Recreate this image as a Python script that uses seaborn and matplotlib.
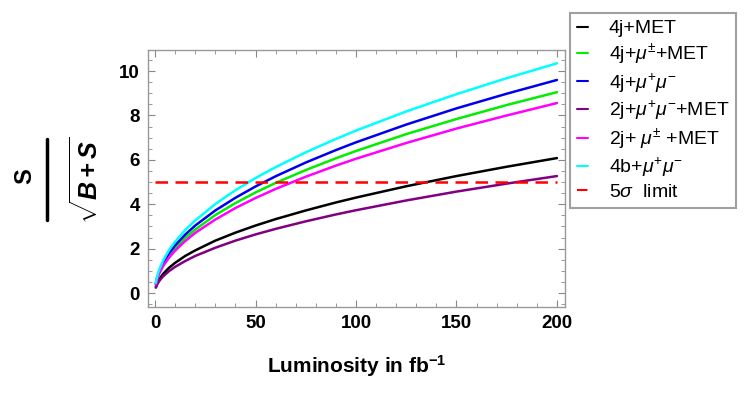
import matplotlib
matplotlib.use("Agg")
import matplotlib.pyplot as plt
import seaborn as sns
import pandas as pd
from matplotlib.ticker import MultipleLocator
from matplotlib.lines import Line2D

luminosity = [0.4, 1, 2, 4, 7, 10, 15, 20, 30, 40, 50, 60, 75, 90, 100, 125, 150, 175, 200]
sig_4j_met = [0.27, 0.43, 0.61, 0.86, 1.14, 1.36, 1.67, 1.92, 2.36, 2.72, 3.04, 3.33, 3.72, 4.08, 4.30, 4.81, 5.27, 5.69, 6.08]
sig_4j_mupm_met = [0.40, 0.64, 0.91, 1.28, 1.69, 2.02, 2.48, 2.86, 3.51, 4.05, 4.53, 4.96, 5.54, 6.07, 6.40, 7.16, 7.84, 8.47, 9.05]
sig_4j_mumu = [0.43, 0.68, 0.96, 1.36, 1.80, 2.15, 2.63, 3.04, 3.72, 4.29, 4.80, 5.26, 5.88, 6.44, 6.79, 7.59, 8.32, 8.98, 9.60]
sig_2j_mumu_met = [0.24, 0.37, 0.53, 0.75, 0.99, 1.18, 1.44, 1.67, 2.04, 2.36, 2.64, 2.89, 3.23, 3.54, 3.73, 4.17, 4.57, 4.93, 5.27]
sig_2j_mupm_met = [0.38, 0.61, 0.86, 1.21, 1.60, 1.91, 2.34, 2.71, 3.31, 3.83, 4.28, 4.69, 5.24, 5.74, 6.05, 6.76, 7.41, 8.00, 8.56]
sig_4b_mumu = [0.46, 0.73, 1.04, 1.46, 1.94, 2.31, 2.84, 3.27, 4.01, 4.63, 5.18, 5.67, 6.34, 6.94, 7.32, 8.18, 8.96, 9.68, 10.35]
limit_L = [0, 200]
limit_val = [5, 5]

labels = ["4j+MET", r"4j+$\mu^{\pm}$+MET", r"4j+$\mu^{+}\mu^{-}$", r"2j+$\mu^{+}\mu^{-}$+MET",
          r"2j+ $\mu^{\pm}$ +MET", r"4b+$\mu^{+}\mu^{-}$", r"5$\sigma$  limit"]
colors = ["black", "#00ee00", "#0000ee", "#800080", "#ff00ff", "cyan", "red"]
series = [sig_4j_met, sig_4j_mupm_met, sig_4j_mumu, sig_2j_mumu_met, sig_2j_mupm_met, sig_4b_mumu]

sns.set_style("ticks")
plt.rcParams["font.family"] = ["Liberation Sans", "DejaVu Sans"]
plt.rcParams["mathtext.fontset"] = "custom"
plt.rcParams["mathtext.rm"] = "Liberation Sans"
plt.rcParams["mathtext.it"] = "Liberation Sans:italic"
plt.rcParams["mathtext.bf"] = "Liberation Sans:bold"
plt.rcParams["mathtext.sf"] = "Liberation Sans:bold:italic"
plt.rcParams["text.color"] = "black"

fig = plt.figure(figsize=(7.5, 4.05), dpi=100)
ax = fig.add_axes([148/750, 1-307/405, (565-148)/750, (307-50)/405])

for vals, lab, col in zip(series, labels[:6], colors[:6]):
    df = pd.DataFrame({"L": luminosity, "v": vals})
    sns.lineplot(data=df, x="L", y="v", ax=ax, color=col, linewidth=1.8, label=lab, legend=False)
dfl = pd.DataFrame({"L": limit_L, "v": limit_val})
sns.lineplot(data=dfl, x="L", y="v", ax=ax, color="red", linewidth=1.8, legend=False)
ax.lines[-1].set_linestyle((0, (5, 3)))
ax.lines[-1].set_label(labels[6])

ax.set_xlim(-3.5, 204)
ax.set_ylim(-0.63, 10.95)
ax.xaxis.set_major_locator(MultipleLocator(50))
ax.xaxis.set_minor_locator(MultipleLocator(10))
ax.yaxis.set_major_locator(MultipleLocator(2))
ax.yaxis.set_minor_locator(MultipleLocator(0.5))
ax.tick_params(which="both", direction="in", top=True, right=True, color="#888888", labelcolor="black")
ax.tick_params(which="major", length=5, labelsize=13.5, pad=6)
ax.tick_params(which="minor", length=3)
for lab in ax.get_xticklabels() + ax.get_yticklabels():
    lab.set_fontweight("bold")
for sp in ax.spines.values():
    sp.set_color("#999999")
    sp.set_linewidth(1.0)

ax.set_xlabel(r"Luminosity in fb$^{\mathbf{-1}}$", fontsize=15, fontweight="bold", labelpad=15,
              color="black")
ax.set_ylabel("")

# y label: S / sqrt(B+S), rotated
fig.text(25/750, 1-176/405, "S", rotation=90, fontsize=17, fontweight="bold",
         ha="center", va="center", color="black")
fig.add_artist(Line2D([47/750, 47/750], [1-139/405, 1-220/405], color="black", linewidth=2.5,
                      transform=fig.transFigure))
fig.text(87/750, 1-180/405, r"$\sqrt{\mathsf{B+S}}$", rotation=90, fontsize=18,
         ha="center", va="center", color="black")

h, l = ax.get_legend_handles_labels()
leg = fig.legend(h, l, loc="upper left", bbox_to_anchor=(570/750, 1-13/405), fontsize=14,
                 handlelength=0.55, handletextpad=1.1, labelspacing=0.22, frameon=True,
                 fancybox=False, edgecolor="#888888", borderpad=0.35, borderaxespad=0)
leg.get_frame().set_linewidth(1.5)
for line in leg.get_lines():
    line.set_linewidth(1.5)

fig.savefig("out.png", dpi=100)
